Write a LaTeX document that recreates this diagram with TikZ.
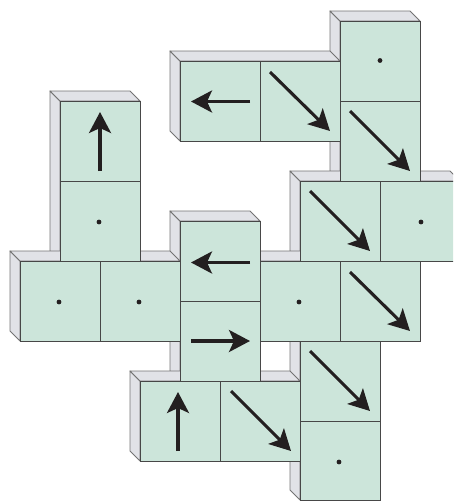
\documentclass[tikz,border=0pt]{standalone}
\usetikzlibrary{arrows.meta}
\definecolor{frontc}{HTML}{CCE5DA}
\definecolor{sidec}{HTML}{E1E2E7}
\definecolor{inkc}{HTML}{231F20}
\tikzset{
  sideface/.style={fill=sidec,draw=black!55,line width=0.9pt,line join=round},
  frontface/.style={fill=frontc,draw=black!72,line width=0.8pt},
  flow/.style={draw=inkc,line width=3.1pt,-{Stealth[length=21pt 0 0,width=22pt 0 0,inset=5pt 0 0]}},
  spot/.style={fill=inkc,draw=none}
}
\begin{document}
\begin{tikzpicture}[x=1pt,y=-1pt]
\clip (0,0) rectangle (453,501);
% left faces: x, y1, y2
\foreach \x/\a/\b in {180/61/141,340/21/181,300/181/261,60/101/261,20/261/341,180/221/381,300/341/500,140/381/461}
  \draw[sideface] (\x,\a) -- (\x-10,\a-10) -- (\x-10,\b-10) -- (\x,\b) -- cycle;
% top faces: x1, x2, y
\foreach \a/\b/\y in {180/340/61,340/420/21,300/460/181,60/140/101,20/180/261,180/260/221,260/340/261,140/300/381}
  \draw[sideface] (\a,\y) -- (\a-10,\y-10) -- (\b-10,\y-10) -- (\b,\y) -- cycle;
% front faces: x, y, height
\foreach \x/\y/\h in {180/61/80,260/61/80,340/21/80,340/101/80,300/181/80,380/181/80,60/101/80,60/181/80,20/261/80,100/261/80,180/221/80,180/301/80,260/261/80,340/261/80,300/341/80,300/421/79.5,140/381/80,220/381/80}
  \draw[frontface] (\x,\y) rectangle ++(80,\h);
% arrows
\draw[flow] (250,101.5) -- (191,101.5);
\draw[flow] (270,72) -- (330,131);
\draw[flow] (350,111) -- (410,171);
\draw[flow] (310,191) -- (370,251);
\draw[flow] (100,171) -- (100,112);
\draw[flow] (250,262.5) -- (191,262.5);
\draw[flow] (191,341) -- (250,341);
\draw[flow] (350,272) -- (410,331);
\draw[flow] (310,351) -- (370,411);
\draw[flow] (178,451) -- (178,392);
\draw[flow] (231,391) -- (291,451);
% dots
\foreach \x/\y in {380/60.5,421/222,99/222,59/302,139/302,299/302,339/462}
  \fill[spot] (\x,\y) circle (2.4pt);
\end{tikzpicture}
\end{document}
